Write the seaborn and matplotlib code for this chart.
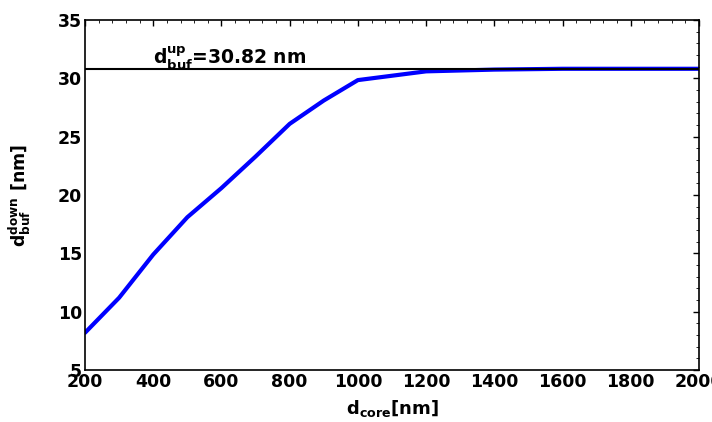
import numpy as np
import pandas as pd
import matplotlib
matplotlib.use('Agg')
import matplotlib.pyplot as plt
from matplotlib.ticker import MultipleLocator
import seaborn as sns

# 데이터
d_core = [200, 300, 400, 500, 600, 700, 800, 900, 1000, 1200, 1400, 1600, 1800, 2000]
d_buf_down = [8.2, 11.2, 14.9, 18.1, 20.6, 23.3, 26.1, 28.1, 29.85, 30.6, 30.75, 30.82, 30.82, 30.82]
d_buf_up = 30.82

df = pd.DataFrame({'d_core': d_core, 'd_buf_down': d_buf_down})

sns.set_style('white')
plt.rcParams['font.family'] = ['DejaVu Sans']
plt.rcParams['font.weight'] = 'bold'
plt.rcParams['mathtext.fontset'] = 'dejavusans'
plt.rcParams['mathtext.default'] = 'bf'
plt.rcParams['text.color'] = 'black'
plt.rcParams['axes.labelcolor'] = 'black'
plt.rcParams['xtick.color'] = 'black'
plt.rcParams['ytick.color'] = 'black'
plt.rcParams['xtick.direction'] = 'in'
plt.rcParams['ytick.direction'] = 'in'

fig = plt.figure(figsize=(7.12, 4.22), dpi=100)
ax = fig.add_axes([0.1194, 0.123, 0.8623, 0.8296])

sns.lineplot(data=df, x='d_core', y='d_buf_down', color='blue', linewidth=3, ax=ax)
ax.axhline(d_buf_up, color='black', linewidth=1.5)
ax.text(400, 31.2, r'$d_{buf}^{up}$=30.82 nm', fontsize=13.5, fontweight='bold', color='black')

ax.set_xlim(200, 2000)
ax.set_ylim(5, 35)
ax.xaxis.set_major_locator(MultipleLocator(200))
ax.xaxis.set_minor_locator(MultipleLocator(40))
ax.yaxis.set_major_locator(MultipleLocator(5))
ax.yaxis.set_minor_locator(MultipleLocator(1))
ax.tick_params(which='both', top=True, right=True, direction='in', color='black')
ax.tick_params(which='major', length=4, width=1, labelsize=12.5, pad=2)
ax.tick_params(which='minor', length=2, width=0.6)
for lab in ax.get_xticklabels() + ax.get_yticklabels():
    lab.set_fontweight('bold')
for s in ax.spines.values():
    s.set_color('black')
    s.set_linewidth(1.2)

ax.set_xlabel(r'$d_{core}$[nm]', fontsize=13, fontweight='bold', labelpad=5)
ax.set_ylabel(r'$d_{buf}^{down}$ [nm]', fontsize=12.5, fontweight='bold', labelpad=18)

fig.savefig('out.png', dpi=100)
